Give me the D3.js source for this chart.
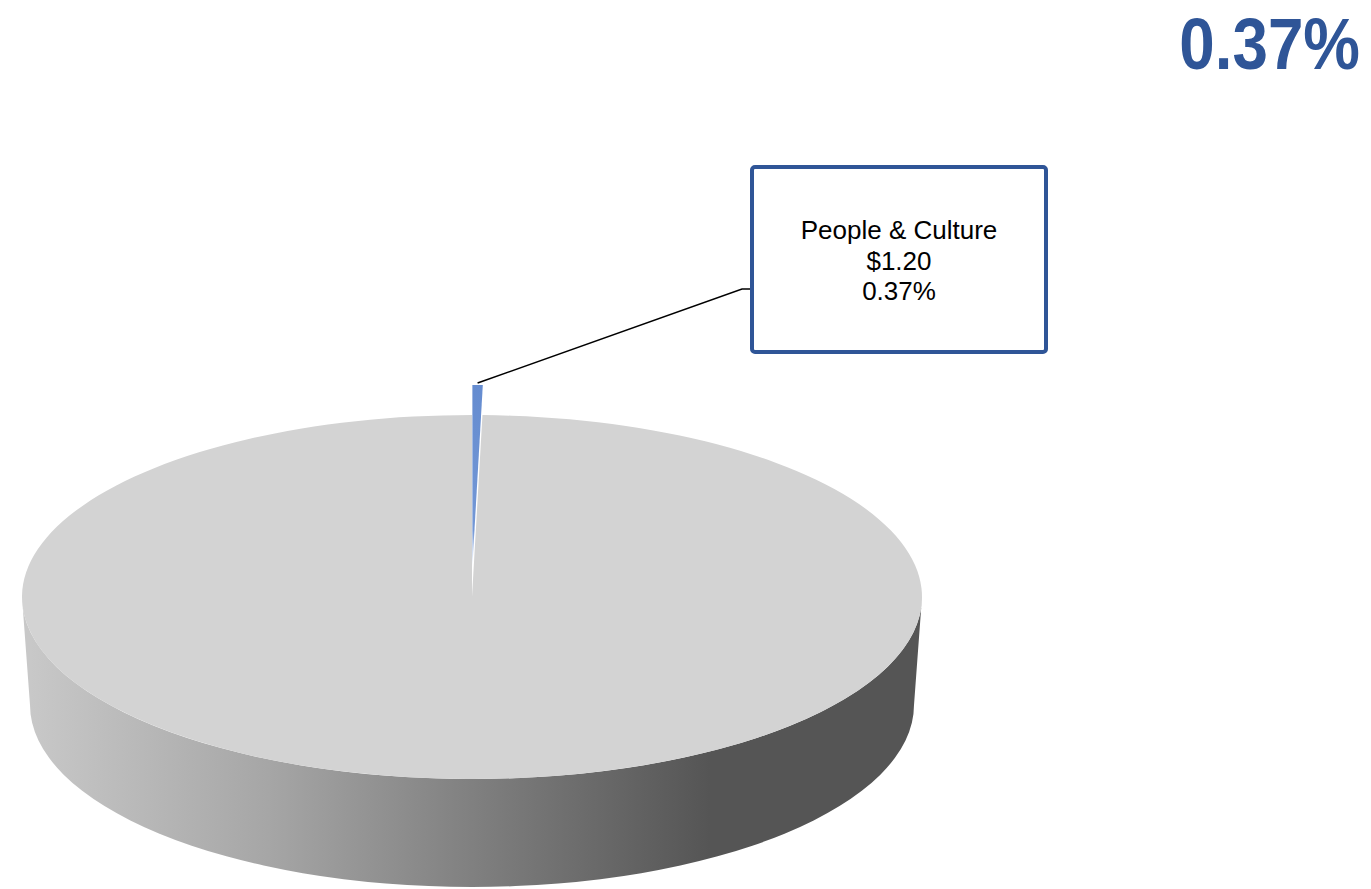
<!DOCTYPE html>
<html>
<head>
<meta charset="utf-8">
<script src="https://cdn.jsdelivr.net/npm/d3@7"></script>
<style>
  html, body { margin: 0; padding: 0; background: #ffffff; }
  svg { display: block; }
</style>
</head>
<body>
<script>
// ---- data ----
const categories = ["People & Culture", "Other"];
const values = [1.20, 323.12];
const valueLabels = ["$1.20", ""];
const percentLabels = ["0.37%", ""];
const headline = "0.37%";

const W = 1371, H = 889;
const svg = d3.select("body").append("svg").attr("width", W).attr("height", H);

// geometry of the tilted pie
const cx = 472, cy = 597, rx = 450, ry = 182;
const bcx = 472, bcy = 705, brx = 442, bry = 182;
const explode = 30;

const pie = d3.pie().sort(null).value(d => d)(values);
const pt = (a, c = [cx, cy], r = [rx, ry]) => [c[0] + r[0] * Math.sin(a), c[1] - r[1] * Math.cos(a)];

const defs = svg.append("defs");
const sideGrad = defs.append("linearGradient").attr("id", "sideGrad")
  .attr("gradientUnits", "userSpaceOnUse").attr("x1", 30).attr("x2", 710).attr("y1", 0).attr("y2", 0);
sideGrad.append("stop").attr("offset", 0).attr("stop-color", "#c8c8c8");
sideGrad.append("stop").attr("offset", 0.35).attr("stop-color", "#a6a6a6");
sideGrad.append("stop").attr("offset", 0.65).attr("stop-color", "#808080");
sideGrad.append("stop").attr("offset", 1).attr("stop-color", "#555555");

const blueGrad = defs.append("linearGradient").attr("id", "blueGrad")
  .attr("x1", 0).attr("x2", 0).attr("y1", 0).attr("y2", 1);
blueGrad.append("stop").attr("offset", 0).attr("stop-color", "#658cd0");
blueGrad.append("stop").attr("offset", 0.8).attr("stop-color", "#7397d5");
blueGrad.append("stop").attr("offset", 1).attr("stop-color", "#eef2f9");

// side wall (front half)
const side = `M ${cx - rx} ${cy} A ${rx} ${ry} 0 0 0 ${cx + rx} ${cy}
  L ${bcx + brx} ${bcy} A ${brx} ${bry} 0 0 1 ${bcx - brx} ${bcy} Z`;
svg.append("path").attr("d", side).attr("fill", "url(#sideGrad)");

// big slice top (gray)
const big = pie[1];
{
  const p0 = pt(big.startAngle), p1 = pt(big.endAngle);
  const large = (big.endAngle - big.startAngle) > Math.PI ? 1 : 0;
  svg.append("path")
    .attr("d", `M ${cx} ${cy} L ${p0[0]} ${p0[1]} A ${rx} ${ry} 0 ${large} 1 ${p1[0]} ${p1[1]} Z`)
    .attr("fill", "#d3d3d3");
}

// small exploded slice
const small = pie[0];
const mid = (small.startAngle + small.endAngle) / 2;
const dx = Math.sin(mid) * explode, dy = -Math.cos(mid) * explode;
const sc = [cx + dx, cy + dy];
{
  const p0 = pt(small.startAngle, sc), p1 = pt(small.endAngle, sc);
  svg.append("path")
    .attr("d", `M ${sc[0]} ${sc[1]} L ${p0[0]} ${p0[1]} A ${rx} ${ry} 0 0 1 ${p1[0]} ${p1[1]} Z`)
    .attr("fill", "url(#blueGrad)");
  // leader line + label box
  const anchor = [(p0[0] + p1[0]) / 2, p0[1] - 2];
  svg.append("polyline")
    .attr("points", `${anchor[0]},${anchor[1]} 742,289 752,289`)
    .attr("fill", "none").attr("stroke", "#000").attr("stroke-width", 1.5);
}

const box = { x: 752, y: 167, w: 294, h: 185 };
svg.append("rect").attr("x", box.x).attr("y", box.y).attr("width", box.w).attr("height", box.h)
  .attr("rx", 3).attr("fill", "#fff").attr("stroke", "#2f5597").attr("stroke-width", 4);
const lines = [categories[0], valueLabels[0], percentLabels[0]];
svg.append("g").selectAll("text").data(lines).join("text")
  .attr("x", box.x + box.w / 2).attr("y", (d, i) => 239 + i * 30.5)
  .attr("text-anchor", "middle")
  .attr("font-family", "'Liberation Sans', Arial, sans-serif")
  .attr("font-size", 26).attr("fill", "#000")
  .text(d => d);

// headline percentage
svg.append("text")
  .attr("transform", "translate(1360,69) scale(0.885,1)")
  .attr("text-anchor", "end")
  .attr("font-family", "'Liberation Sans', Arial, sans-serif").attr("font-weight", 700)
  .attr("font-size", 72).attr("fill", "#2f5597")
  .text(headline);
</script>
</body>
</html>
